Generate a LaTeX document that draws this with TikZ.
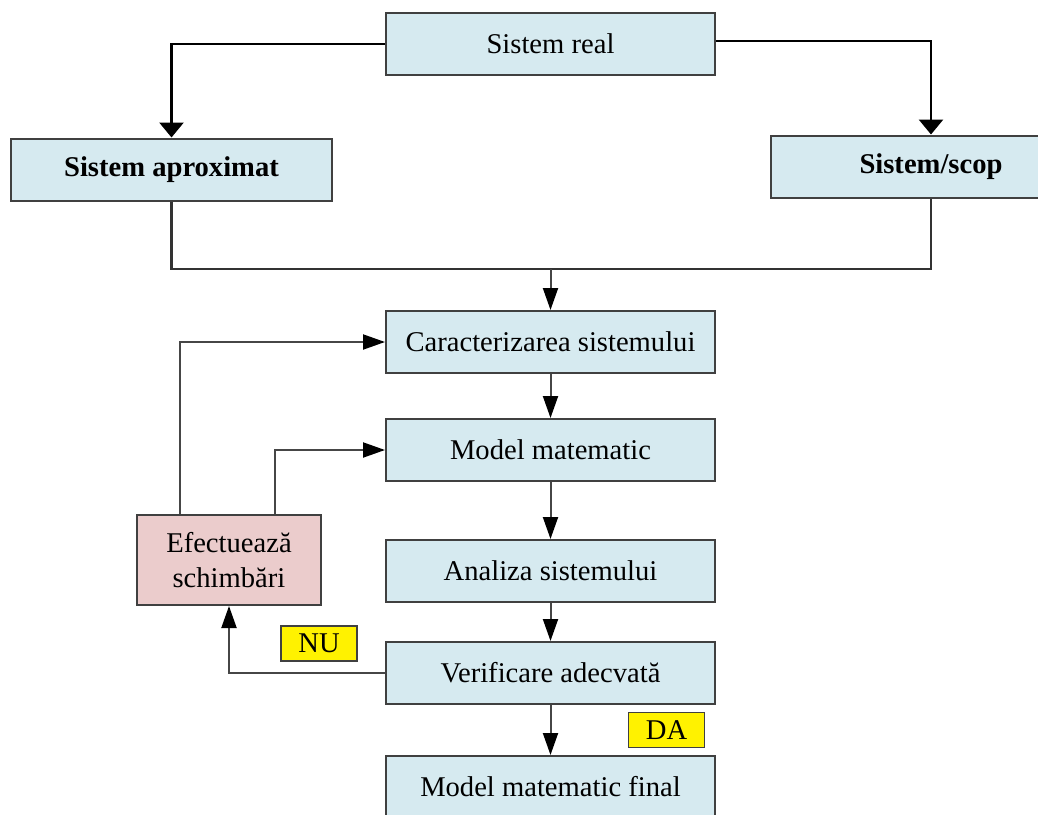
\documentclass[tikz,border=0pt]{standalone}
\usepackage{fontspec}
\setmainfont{Liberation Serif}
\usepackage{tikz}
\usetikzlibrary{arrows.meta, positioning}
\usepackage{xcolor}
\definecolor{paleblue}{RGB}{214,234,240}
\definecolor{palepink}{RGB}{235,204,204}
\definecolor{boxgray}{RGB}{64,64,64}
\definecolor{linegray}{RGB}{70,70,70}

\begin{document}
\begin{tikzpicture}[
        x=0.5pt, y=-0.5pt,
        line join=miter,
        bluebox/.style={shape=rectangle, fill=paleblue, draw=boxgray, line width=1pt, minimum width=164.5pt, minimum height=31pt, inner sep=0pt, font=\fontsize{14.3}{17}\selectfont},
        boldbox/.style={bluebox, minimum width=160.5pt, font=\fontsize{14.3}{17}\selectfont\bfseries},
        pinkbox/.style={shape=rectangle, fill=palepink, draw=boxgray, line width=1pt, minimum width=92pt, minimum height=45pt, inner sep=0pt, align=center, font=\fontsize{14.3}{17.5}\selectfont},
        yellowlabel/.style={shape=rectangle, fill=yellow, draw=boxgray, line width=0.8pt, minimum width=38pt, minimum height=17.5pt, inner sep=0pt, font=\fontsize{14.3}{17}\selectfont},
        bigarrow/.style={draw=black, line width=1.4pt, -{Triangle[width=12pt, length=7.5pt, color=black]}},
        bigline/.style={draw=black!80, line width=1.4pt},
        smallarrow/.style={draw=linegray, line width=1pt, -{Triangle[width=7.5pt, length=11pt, color=black]}},
        smallline/.style={draw=linegray, line width=1pt}
    ]
        % Frame
        \useasboundingbox (0,0) rectangle (1038,814);
        % Boxes
        \node[bluebox] (real) at (550.5, 44) {Sistem real};
        \node[boldbox] (aprox) at (171.5, 169.5) {Sistem aproximat};
        \node[boldbox] (scop) at (931, 166.5) {Sistem/scop};
        \node[bluebox] (caract) at (550.5, 342) {Caracterizarea sistemului};
        \node[bluebox] (model) at (550.5, 450) {Model matematic};
        \node[bluebox] (analiza) at (550.5, 571) {Analiza sistemului};
        \node[bluebox] (verif) at (550.5, 673) {Verificare adecvată};
        \node[bluebox] (final) at (550.5, 787) {Model matematic final};
        \node[pinkbox] (efect) at (229, 560) {Efectuează\\schimbări};
        % Labels
        \node[yellowlabel] (nu) at (319, 643.5) {NU};
        \node[yellowlabel] (da) at (666.5, 730) {DA};
        % Top connectors
        \draw[bigarrow] (real.west) -| (aprox.north);
        \draw[bigarrow] ([yshift=1.5pt]real.east) -| (scop.north);
        \coordinate (join) at (550.5, 269);
        \draw[bigline] (aprox.south) |- (join) -| (scop.south);
        \draw[smallarrow] (join) -- (caract.north);
        % Main chain
        \draw[smallarrow] (caract) -- (model);
        \draw[smallarrow] (model) -- (analiza);
        \draw[smallarrow] (analiza) -- (verif);
        \draw[smallarrow] (verif) -- (final);
        % Feedback
        \draw[smallarrow] (verif.west) -| (efect.south);
        \draw[smallarrow] ([xshift=-24.5pt]efect.north) |- (caract.west);
        \draw[smallarrow] ([xshift=23pt]efect.north) |- (model.west);
    \end{tikzpicture}
\end{document}
